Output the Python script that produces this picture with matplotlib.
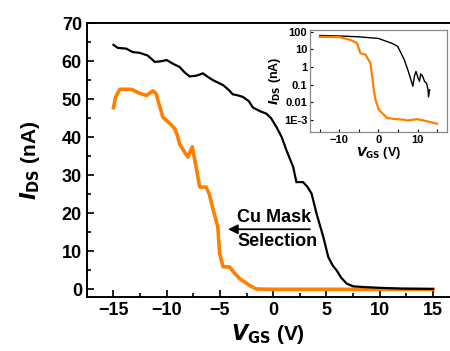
import matplotlib
matplotlib.use("Agg")
import matplotlib.pyplot as plt
import numpy as np

plt.rcParams['font.family'] = ['Liberation Sans', 'DejaVu Sans']
plt.rcParams['font.weight'] = 'bold'

# Main plot data (linear)
black_v = [-15, -14.6, -13.8, -13.2, -12.55, -11.8, -11.1, -10.5, -10.0, -9.4, -8.8, -8.3, -7.85, -7.2,
           -6.6, -6.1, -5.65, -4.7, -4.2, -3.8, -3.3, -2.85, -2.3, -1.9, -1.2, -0.64,
           -0.2, 0.3, 0.8, 1.24, 1.87, 2.18, 2.8, 3.2, 3.6, 4.07, 4.7, 5.17, 5.6, 5.95, 6.4, 6.9, 7.5,
           8.5, 10, 12, 15]
black_i = [64.3, 63.5, 63.3, 62.4, 62.2, 61.5, 59.8, 60.0, 60.3, 59.3, 58.5, 57.0, 56.0, 56.2,
           56.8, 55.8, 55.0, 53.7, 52.5, 51.3, 51.0, 50.6, 49.5, 47.8, 46.8, 46.2,
           45.0, 42.7, 40.0, 36.6, 32.2, 28.2, 28.2, 27.0, 25.2, 19.9, 13.8, 8.5, 6.2, 5.0, 3.0, 1.5, 0.8,
           0.6, 0.4, 0.2, 0.1]

orange_v = [-15, -14.8, -14.4, -13.3, -12.6, -11.9, -11.3, -11.0, -10.7, -10.36, -9.7, -9.26, -9.0, -8.8,
            -8.3, -8.0, -7.6, -7.24, -6.9, -6.3, -6.0, -5.7, -5.2, -5.03, -4.7, -4.1, -3.7, -3.15,
            -2.6, -2.2, -1.6, 0, 5, 10, 15]
orange_i = [47.8, 50.6, 52.6, 52.6, 51.6, 51.0, 52.2, 51.5, 48.5, 45.3, 43.6, 42.3, 40.5, 38.3,
            36.0, 34.8, 37.5, 32.2, 26.9, 26.9, 25.0, 21.6, 16.4, 9.4, 5.9, 5.9, 4.5, 2.8,
            1.8, 1.0, 0.1, 0.0, 0.0, 0.0, 0.0]

# Inset data (log)
in_black_v = [-15, -10, -5, 0, 2.2, 3.5, 4.9, 5.8, 6.6, 7.5, 8.3, 8.8, 9.2, 9.6, 10.1, 10.5,
              10.8, 11.3, 11.8, 12.3, 12.7, 12.8, 13.1]
in_black_i = [62, 58, 52, 42, 28, 22, 15, 6, 2.6, 0.7, 0.19, 0.08, 0.3, 0.56, 0.25, 0.15,
              0.4, 0.3, 0.15, 0.12, 0.05, 0.02, 0.05]
in_orange_v = [-15, -10, -7.2, -5.5, -4.6, -3.3, -2.05, -1.6, -1.2, -0.77, 0.1, 2.2, 4, 6.5, 7.4,
               9.9, 11.6, 13, 15]
in_orange_i = [52, 50, 35, 23, 6, 5, 1.66, 0.29, 0.05, 0.014, 0.0037, 0.00126, 0.0011, 0.001,
               0.0009, 0.00107, 0.0009, 0.00075, 0.00059]

ORANGE = '#ff8000'

fig = plt.figure(figsize=(4.5, 3.51), dpi=100)
ax = fig.add_axes([0.193, 0.154, 0.807, 0.78])
ax.plot(black_v, black_i, color='black', lw=1.6, zorder=3, solid_joinstyle='miter')
ax.plot(orange_v, orange_i, color=ORANGE, lw=2.6, zorder=2)
ax.set_xlim(-17.5, 16.6)
ax.set_ylim(-2, 70)
ax.set_xticks([-15, -10, -5, 0, 5, 10, 15])
ax.set_xticks(np.arange(-17.5, 17, 2.5), minor=True)
ax.set_yticks(range(0, 71, 10))
ax.set_yticks(range(0, 70, 5), minor=True)
ax.tick_params(which='both', direction='in', labelsize=13, width=1.2)
ax.tick_params(which='major', length=5)
ax.tick_params(which='minor', length=3)
ax.spines['right'].set_visible(False)
for s in ['left', 'bottom', 'top']:
    ax.spines[s].set_linewidth(1.4)
for lab in ax.get_xticklabels() + ax.get_yticklabels():
    lab.set_fontweight('bold')
ax.set_xlabel(r'$\mathbf{\mathit{V}_{GS}}$ (V)', fontsize=15, fontweight='bold', labelpad=2)
ax.set_ylabel(r'$\mathbf{\mathit{I}_{DS}}$ (nA)', fontsize=15, fontweight='bold', labelpad=14)

ax.annotate('', xy=(-4.5, 15.8), xytext=(3.7, 15.8),
            arrowprops=dict(arrowstyle='-|>', color='black', lw=1.3, mutation_scale=14))
ax.text(-3.4, 18.8, 'Cu Mask', fontsize=13, fontweight='bold', va='center', ha='left')
ax.text(-3.4, 12.6, 'Selection', fontsize=13, fontweight='bold', va='center', ha='left')

ins = fig.add_axes([0.689, 0.624, 0.304, 0.291])
ins.plot(in_black_v, in_black_i, color='black', lw=1.0)
ins.plot(in_orange_v, in_orange_i, color=ORANGE, lw=1.6)
ins.set_yscale('log')
ins.set_xlim(-17.5, 17.5)
ins.set_ylim(2e-4, 130)
ins.set_xticks([-10, 0, 10])
ins.set_xticks([-15, -5, 5, 15], minor=True)
ins.set_yticks([1e-3, 1e-2, 0.1, 1, 10, 100])
ins.set_yticklabels(['1E-3', '0.01', '0.1', '1', '10', '100'])
ins.yaxis.set_minor_locator(matplotlib.ticker.NullLocator())
ins.tick_params(which='both', direction='in', labelsize=8, width=0.8, length=2, pad=2)
for s in ins.spines.values():
    s.set_color('#888888')
    s.set_linewidth(0.9)
for lab in ins.get_xticklabels() + ins.get_yticklabels():
    lab.set_fontweight('bold')
ins.set_xlabel(r'$\mathbf{\mathit{V}_{GS}}$ (V)', fontsize=9, fontweight='bold', labelpad=0)
ins.set_ylabel(r'$\mathbf{\mathit{I}_{DS}}$ (nA)', fontsize=9, fontweight='bold', labelpad=1)

fig.savefig('out.png', dpi=100)
